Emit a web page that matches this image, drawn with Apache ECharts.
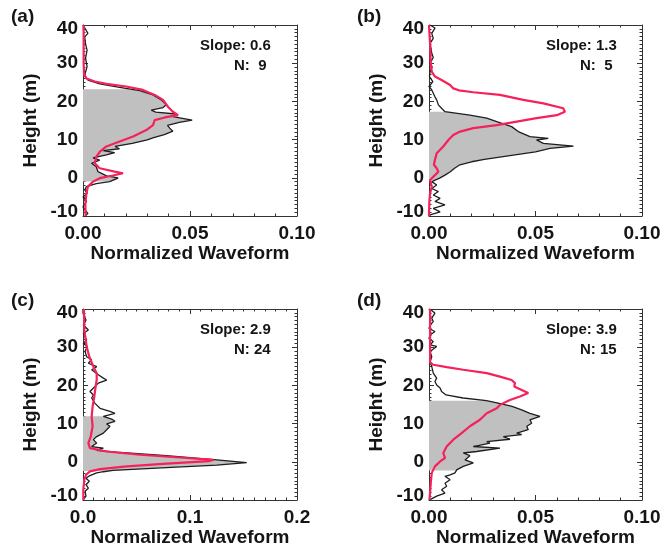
<!DOCTYPE html>
<html>
<head>
<meta charset="utf-8">
<script src="https://cdn.jsdelivr.net/npm/echarts@6/dist/echarts.min.js"></script>
<style>
  html, body { margin: 0; padding: 0; background: #ffffff; }
  #chart { width: 665px; height: 554px; }
</style>
</head>
<body>
<div id="chart"></div>
<script>
// Vertical waveform profiles: [normalized waveform, height (m)], listed from top to bottom.
// obs* = measured waveform (black, shaded between ground and canopy top), sim* = simulated (red).
const obsA = [
  [0.0000, 40], [0.0023, 37.8], [0.0008, 36.9], [0.0012, 35.0], [0.0019, 33.4], [0.0012, 31.3],
  [0.0019, 29.1], [0.0008, 26.9], [0.0023, 25.6], [0.0078, 24.6], [0.0171, 23.7], [0.0265, 22.8],
  [0.0327, 21.7], [0.0366, 20.4], [0.0389, 19.1], [0.0374, 18.4], [0.0319, 17.7], [0.0340, 17.2],
  [0.0435, 16.7], [0.0420, 16.0], [0.0510, 15.1], [0.0450, 14.5], [0.0395, 13.7], [0.0405, 13.0],
  [0.0420, 12.2], [0.0380, 11.3], [0.0330, 10.5], [0.0300, 9.9], [0.0230, 9.0], [0.0150, 8.2],
  [0.0170, 7.6], [0.0095, 7.1], [0.0148, 6.6], [0.0109, 6.0], [0.0047, 5.2], [0.0078, 4.6],
  [0.0040, 3.8], [0.0062, 2.9], [0.0070, 1.6], [0.0078, 1.2], [0.0110, 0.5], [0.0164, 0.0],
  [0.0160, -0.5], [0.0125, -1.0], [0.0062, -1.5], [0.0016, -2.3], [0.0008, -3.2], [0.0020, -4.0],
  [0.0000, -5.0], [0.0016, -6.2], [0.0000, -7.6], [0.0010, -8.5], [0.0023, -9.3], [0.0010, -10]
];
const simA = [
  [0.0002, 40], [0.0003, 38], [0.0003, 35], [0.0003, 30], [0.0005, 27], [0.0016, 26.0],
  [0.0055, 25.2], [0.0109, 24.6], [0.0202, 23.9], [0.0280, 23.0], [0.0335, 21.7], [0.0374, 20.4],
  [0.0397, 18.6], [0.0420, 17.3], [0.0444, 16.4], [0.0382, 15.8], [0.0335, 15.1], [0.0327, 13.8],
  [0.0296, 12.5], [0.0234, 10.8], [0.0171, 9.5], [0.0109, 8.2], [0.0078, 6.8], [0.0062, 5.5],
  [0.0055, 3.8], [0.0078, 2.5], [0.0148, 1.6], [0.0187, 1.2], [0.0140, 0.6], [0.0078, -0.1],
  [0.0047, -1.0], [0.0023, -2.3], [0.0016, -4.1], [0.0011, -6.7], [0.0012, -10]
];
const obsB = [
  [0.0005, 40], [0.0028, 39.2], [0.0013, 37.8], [0.0020, 36.5], [0.0005, 35.2], [0.0013, 32.6],
  [0.0020, 31.5], [0.0005, 30], [0.0015, 29], [0.0005, 27.8], [0.0002, 26.5], [0.0018, 25.2],
  [0.0000, 23.9], [0.0013, 23.0], [0.0028, 21.2], [0.0036, 20.4], [0.0044, 19.1], [0.0059, 18.2],
  [0.0075, 17.3], [0.0192, 16.4], [0.0271, 15.6], [0.0318, 14.7], [0.0388, 13.4], [0.0419, 12.1],
  [0.0474, 10.8], [0.0560, 10.3], [0.0505, 9.9], [0.0537, 9.0], [0.0678, 8.3], [0.0568, 7.7],
  [0.0500, 6.8], [0.0340, 5.5], [0.0260, 4.8], [0.0200, 4.2], [0.0145, 3.4], [0.0120, 2.5],
  [0.0100, 1.6], [0.0075, 0.7], [0.0050, -0.1], [0.0013, -1.0], [0.0036, -1.9], [0.0013, -2.8],
  [0.0044, -3.6], [0.0020, -4.5], [0.0052, -5.4], [0.0028, -6.2], [0.0075, -7.1], [0.0020, -8.0],
  [0.0052, -8.9], [0.0005, -9.7], [0.0002, -10]
];
const simB = [
  [0.0000, 40], [0.0005, 35], [0.0008, 30], [0.0013, 27.8], [0.0028, 26.5], [0.0059, 25.6],
  [0.0099, 24.3], [0.0114, 23.4], [0.0140, 22.9], [0.0208, 22.4], [0.0333, 21.7], [0.0443, 20.4],
  [0.0537, 19.5], [0.0630, 18.2], [0.0638, 17.3], [0.0600, 16.4], [0.0505, 15.6], [0.0412, 14.7],
  [0.0318, 13.8], [0.0208, 13.0], [0.0146, 12.1], [0.0114, 11.2], [0.0091, 9.9], [0.0067, 8.2],
  [0.0036, 6.4], [0.0028, 4.7], [0.0023, 3.4], [0.0036, 2.5], [0.0044, 1.6], [0.0028, 0.7],
  [0.0005, -0.6], [0.0013, -2.3], [0.0005, -4.1], [0.0002, -5.8], [0.0000, -9.3], [0.0000, -10]
];
const obsC = [
  [0.0000, 40], [0.0009, 39.7], [0.0000, 38.9], [0.0028, 37.1], [0.0003, 35.8], [0.0050, 34.5],
  [0.0003, 33.6], [0.0034, 31.9], [0.0003, 31.0], [0.0040, 30.2], [0.0019, 28.9], [0.0034, 27.5],
  [0.0081, 26.7], [0.0050, 25.8], [0.0128, 24.9], [0.0081, 24.1], [0.0143, 22.8], [0.0190, 21.9],
  [0.0221, 21.4], [0.0143, 20.6], [0.0112, 19.7], [0.0065, 18.4], [0.0097, 17.5], [0.0081, 16.7],
  [0.0112, 15.3], [0.0159, 14.0], [0.0252, 13.2], [0.0299, 12.7], [0.0190, 11.9], [0.0268, 11.2],
  [0.0299, 10.6], [0.0221, 9.9], [0.0252, 9.3], [0.0221, 8.4], [0.0190, 7.5], [0.0128, 6.6],
  [0.0097, 5.8], [0.0128, 4.9], [0.0081, 4.0], [0.0190, 3.6], [0.0128, 3.0], [0.0315, 2.5],
  [0.0780, 1.6], [0.1250, 0.5], [0.1530, -0.2], [0.1250, -0.85], [0.0780, -1.5], [0.0280, -2.25],
  [0.0190, -2.6], [0.0128, -2.9], [0.0065, -3.6], [0.0028, -4.3], [0.0059, -5.1], [0.0028, -6.0],
  [0.0050, -6.9], [0.0019, -7.7], [0.0028, -9.0], [0.0003, -9.9]
];
const simC = [
  [0.0009, 40], [0.0012, 34.5], [0.0034, 30.2], [0.0059, 27.5], [0.0097, 24.9], [0.0128, 23.2],
  [0.0128, 21.4], [0.0118, 19.7], [0.0106, 17.1], [0.0090, 14.5], [0.0081, 11.9], [0.0090, 9.3],
  [0.0072, 6.6], [0.0050, 4.9], [0.0065, 3.6], [0.0221, 2.7], [0.0533, 1.85], [0.0969, 1.0],
  [0.1218, 0.5], [0.1180, 0.2], [0.0782, -0.5], [0.0408, -1.2], [0.0159, -1.9], [0.0065, -2.5],
  [0.0028, -3.4], [0.0012, -4.7], [0.0003, -7.3], [0.0003, -10]
];
const obsD = [
  [0.0005, 40], [0.0005, 39.7], [0.0028, 38.9], [0.0013, 37.6], [0.0020, 36.7], [0.0005, 35.8],
  [0.0000, 34.9], [0.0028, 34.1], [0.0005, 33.2], [0.0000, 32.3], [0.0020, 31.5], [0.0005, 30.6],
  [0.0036, 30.2], [0.0005, 28.9], [0.0013, 27.5], [0.0005, 26.2], [0.0013, 24.9], [0.0020, 23.2],
  [0.0036, 21.9], [0.0028, 21.0], [0.0036, 20.1], [0.0052, 19.3], [0.0059, 18.4], [0.0080, 17.5],
  [0.0160, 16.7], [0.0270, 16.0], [0.0330, 15.3], [0.0390, 14.5], [0.0435, 13.6], [0.0474, 12.7],
  [0.0521, 11.9], [0.0474, 11.0], [0.0482, 10.1], [0.0459, 9.3], [0.0466, 8.4], [0.0412, 7.5],
  [0.0435, 7.1], [0.0349, 6.6], [0.0380, 5.9], [0.0271, 5.3], [0.0286, 4.9], [0.0208, 4.0],
  [0.0333, 3.6], [0.0224, 2.7], [0.0161, 2.3], [0.0192, 1.6], [0.0169, 0.5], [0.0208, -0.3],
  [0.0161, -1.2], [0.0130, -2.1], [0.0122, -2.9], [0.0099, -3.4], [0.0075, -3.8], [0.0099, -4.7],
  [0.0075, -5.6], [0.0083, -6.4], [0.0059, -7.3], [0.0075, -8.2], [0.0036, -9.0], [0.0005, -9.9]
];
const simD = [
  [0.0005, 40], [0.0005, 30], [0.0005, 26.0], [0.0020, 25.4], [0.0083, 24.8], [0.0161, 24.1],
  [0.0271, 23.2], [0.0333, 22.3], [0.0388, 21.4], [0.0404, 20.6], [0.0400, 19.7], [0.0435, 18.8],
  [0.0466, 18.0], [0.0427, 17.1], [0.0380, 16.2], [0.0333, 14.9], [0.0318, 14.0], [0.0271, 12.7],
  [0.0239, 11.0], [0.0192, 9.3], [0.0153, 7.5], [0.0114, 5.8], [0.0083, 4.0], [0.0067, 2.3],
  [0.0075, 1.0], [0.0052, 0.1], [0.0028, -1.2], [0.0013, -2.9], [0.0008, -5.6], [0.0005, -8.2],
  [0.0002, -10]
];

const observed = [obsA, obsB, obsC, obsD];
const simulated = [simA, simB, simC, simD];

// Shaded band of the measured waveform: canopy top and ground height (m) per panel.
const canopyTop = [23.2, 17.3, 11.9, 16.0];
const groundLevel = [-1.0, -0.6, -2.4, -2.3];

// Panel annotations.
const panelTags = ['(a)', '(b)', '(c)', '(d)'];
const slopes = ['0.6', '1.3', '2.9', '3.9'];
const counts = [9, 5, 24, 15];

// Axis scales.
const waveMax = [0.1, 0.1, 0.2, 0.1];
const waveStep = [0.05, 0.05, 0.1, 0.05];
const waveDigits = [2, 2, 1, 2];
const waveMinorSplit = [5, 5, 10, 5];
const heightMin = -10;
const heightMax = 40;
const heightStep = 10;

// Plot frames in pixels.
const frames = [
  { left: 83, top: 25, width: 214, height: 191 },
  { left: 429, top: 25, width: 213, height: 191 },
  { left: 83, top: 309, width: 214, height: 191 },
  { left: 429, top: 309, width: 213, height: 191 }
];

const FONT = "'Liberation Sans', Arial, Helvetica, sans-serif";
const INK = '#151515';
const FRAME = '#333333';
const RED = '#f5225a';
const SHADE = '#c0c0c0';

// Waveform value on a profile at a given height (between neighbouring samples).
function waveAt(profile, h) {
  for (let k = 0; k < profile.length - 1; k++) {
    const a = profile[k], b = profile[k + 1];
    if ((a[1] - h) * (b[1] - h) <= 0 && a[1] !== b[1]) {
      const t = (h - a[1]) / (b[1] - a[1]);
      return a[0] + t * (b[0] - a[0]);
    }
  }
  return 0;
}

const grid = [], xAxis = [], yAxis = [], series = [], graphic = [];

frames.forEach((f, i) => {
  grid.push({ left: f.left, top: f.top, width: f.width, height: f.height, show: false });

  const tick = { inside: true, length: 5, lineStyle: { color: FRAME, width: 1 } };
  const line = { show: true, onZero: false, lineStyle: { color: FRAME, width: 1 } };
  const labelFont = { fontFamily: FONT, fontWeight: 'bold', fontSize: 19, color: INK };

  xAxis.push({
    gridIndex: i, type: 'value', position: 'bottom',
    min: 0, max: waveMax[i], interval: waveStep[i],
    axisLine: line, axisTick: tick,
    minorTick: { show: true, splitNumber: waveMinorSplit[i], length: 2.5, lineStyle: { color: FRAME } },
    splitLine: { show: false },
    axisLabel: Object.assign({ margin: 8, formatter: v => v.toFixed(waveDigits[i]) }, labelFont),
    name: 'Normalized Waveform', nameLocation: 'middle', nameGap: 28,
    nameTextStyle: labelFont
  });
  xAxis.push({
    gridIndex: i, type: 'value', position: 'top',
    min: 0, max: waveMax[i], interval: waveStep[i],
    axisLine: line, axisTick: tick,
    minorTick: { show: true, splitNumber: waveMinorSplit[i], length: 2.5, lineStyle: { color: FRAME } },
    splitLine: { show: false }, axisLabel: { show: false }
  });
  yAxis.push({
    gridIndex: i, type: 'value', position: 'left',
    min: heightMin, max: heightMax, interval: heightStep,
    axisLine: line, axisTick: tick,
    minorTick: { show: true, splitNumber: 10, length: 2.5, lineStyle: { color: FRAME } },
    splitLine: { show: false },
    axisLabel: Object.assign({
      margin: 5, lineHeight: 8,
      verticalAlignMaxLabel: 'top', verticalAlignMinLabel: 'bottom'
    }, labelFont),
    name: 'Height (m)', nameLocation: 'middle', nameGap: 43, nameRotate: 90,
    nameTextStyle: labelFont
  });
  yAxis.push({
    gridIndex: i, type: 'value', position: 'right',
    min: heightMin, max: heightMax, interval: heightStep,
    axisLine: line, axisTick: tick,
    minorTick: { show: true, splitNumber: 10, length: 2.5, lineStyle: { color: FRAME } },
    splitLine: { show: false }, axisLabel: { show: false }
  });

  const obs = observed[i];
  const top = canopyTop[i], ground = groundLevel[i];

  // Grey shading between the measured waveform and zero, from ground to canopy top.
  series.push({
    type: 'custom', xAxisIndex: 2 * i, yAxisIndex: 2 * i,
    data: [[0, 0]], silent: true, z: 1, clip: true,
    renderItem: (params, api) => {
      const pts = [api.coord([0, top]), api.coord([waveAt(obs, top), top])];
      obs.forEach(p => { if (p[1] < top && p[1] > ground) pts.push(api.coord(p)); });
      pts.push(api.coord([waveAt(obs, ground), ground]));
      pts.push(api.coord([0, ground]));
      return { type: 'polygon', shape: { points: pts }, style: { fill: SHADE, stroke: null } };
    }
  });
  series.push({
    type: 'line', xAxisIndex: 2 * i, yAxisIndex: 2 * i, data: obs,
    symbol: 'none', z: 2, clip: true, silent: true,
    lineStyle: { color: '#1e1e1e', width: 1.3 }
  });
  series.push({
    type: 'line', xAxisIndex: 2 * i, yAxisIndex: 2 * i, data: simulated[i],
    symbol: 'none', z: 3, clip: true, silent: true,
    lineStyle: { color: RED, width: 2.2 }
  });

  graphic.push({
    type: 'text', left: f.left - 72, top: f.top - 18,
    style: { text: panelTags[i], fontFamily: FONT, fontWeight: 'bold', fontSize: 19, fill: INK }
  });
  graphic.push({
    type: 'text', left: f.left + 117, top: f.top + 13,
    style: { text: 'Slope: ' + slopes[i], fontFamily: FONT, fontWeight: 'bold', fontSize: 15, fill: INK }
  });
  graphic.push({
    type: 'text', left: f.left + 151, top: f.top + 33,
    style: { text: 'N: ' + String(counts[i]).padStart(2, ' '), fontFamily: FONT, fontWeight: 'bold', fontSize: 15, fill: INK, whiteSpace: 'pre' }
  });
});

const chart = echarts.init(document.getElementById('chart'), null, { renderer: 'canvas' });
chart.setOption({
  backgroundColor: '#ffffff',
  animation: false,
  grid, xAxis, yAxis, series, graphic
});
</script>
</body>
</html>
